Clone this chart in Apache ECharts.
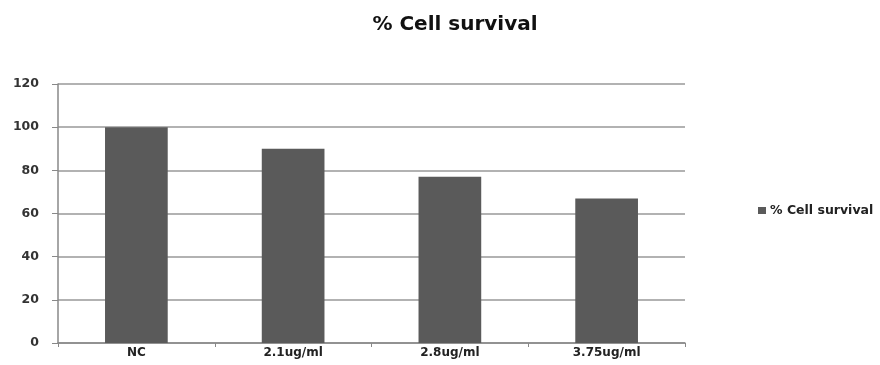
<!DOCTYPE html>
<html><head><meta charset="utf-8">
<script src="https://cdn.jsdelivr.net/npm/echarts@6/dist/echarts.min.js"></script>
<style>html,body{margin:0;padding:0;background:#fff}#c{width:880px;height:365px}</style>
</head><body><div id="c"></div>
<script>
const categories = ["NC", "2.1ug/ml", "2.8ug/ml", "3.75ug/ml"];
const survival = [100, 90, 77, 67];
const seriesName = "% Cell survival";
const titleText = "% Cell survival";

const chart = echarts.init(document.getElementById('c'));
chart.setOption({
  animation: false,
  backgroundColor: '#fff',
  title: {
    text: titleText, left: 450, top: 10, textAlign: 'center',
    textStyle: { fontFamily: 'DejaVu Sans', fontWeight: 'bold', fontSize: 20, color: '#111' }
  },
  legend: {
    data: [seriesName], left: 753, top: 199, itemWidth: 8, itemHeight: 7, itemGap: 4,
    icon: 'rect',
    textStyle: { fontFamily: 'DejaVu Sans', fontSize: 12.5, color: '#222', fontWeight: 'bold', padding: [0,0,0,-1] }
  },
  grid: { left: 58, right: 195, top: 84, bottom: 22 },
  xAxis: {
    type: 'category', data: categories,
    axisLine: { lineStyle: { color: '#888', width: 1.5 } },
    axisTick: { show: true, length: 4, lineStyle: { color: '#888' } },
    axisLabel: { fontFamily: 'DejaVu Sans', fontSize: 12, fontWeight: 'bold', color: '#222', margin: 4 }
  },
  yAxis: {
    type: 'value', min: 0, max: 120, interval: 20,
    axisLine: { show: true, lineStyle: { color: '#888', width: 1.5 } },
    axisTick: { show: true, length: 6, lineStyle: { color: '#888' } },
    axisLabel: { fontFamily: 'DejaVu Sans', fontSize: 12.5, fontWeight: 'bold', color: '#333', margin: 19 },
    splitLine: { lineStyle: { color: '#999', width: 1.5 } }
  },
  series: [{
    name: seriesName, type: 'bar', data: survival, barWidth: '40%',
    itemStyle: { color: '#5a5a5a' }
  }]
});
</script></body></html>
